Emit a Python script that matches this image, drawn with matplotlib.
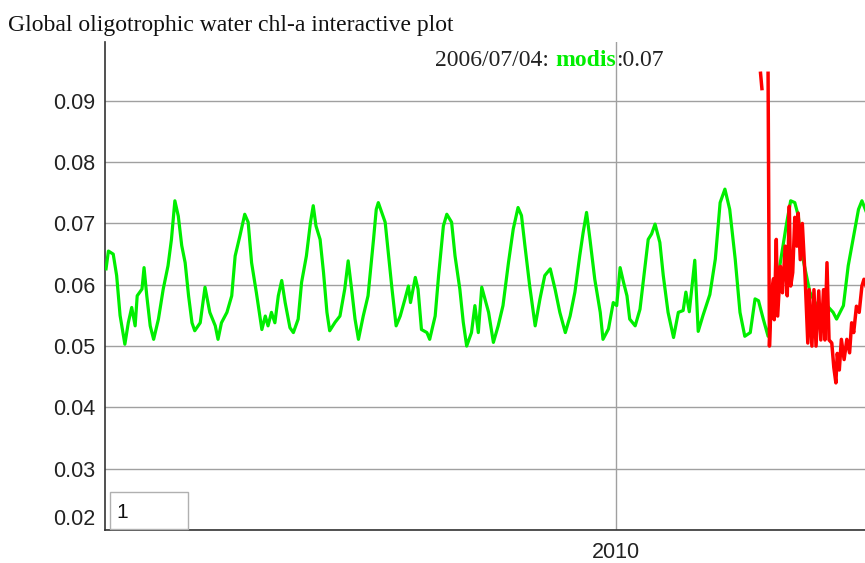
import numpy as np
import matplotlib
matplotlib.use("Agg")
import matplotlib.pyplot as plt
from matplotlib.patches import Rectangle

# modis series (green), decimal year vs chl-a
modis_year = [
    2002.555, 2002.59, 2002.66, 2002.71, 2002.76, 2002.83, 2002.88, 2002.93, 2002.98,
    2003.01, 2003.08, 2003.11, 2003.15, 2003.20, 2003.25, 2003.32, 2003.39, 2003.46,
    2003.51, 2003.56, 2003.61, 2003.66, 2003.71, 2003.76, 2003.81, 2003.85, 2003.93,
    2004.00, 2004.07, 2004.15, 2004.19, 2004.24, 2004.32, 2004.39, 2004.44, 2004.51,
    2004.58, 2004.63, 2004.68, 2004.75, 2004.83, 2004.88, 2004.92, 2004.97,
    2005.02, 2005.07, 2005.12, 2005.17, 2005.24, 2005.29, 2005.36, 2005.41, 2005.48,
    2005.54, 2005.58, 2005.62, 2005.68, 2005.73, 2005.78, 2005.82, 2005.90, 2005.97,
    2006.04, 2006.09, 2006.14, 2006.19, 2006.24, 2006.31, 2006.38, 2006.46, 2006.50,
    2006.53, 2006.58, 2006.63, 2006.68, 2006.73, 2006.79, 2006.85, 2006.92, 2006.97,
    2007.00, 2007.07, 2007.11, 2007.16, 2007.24, 2007.28, 2007.36, 2007.41, 2007.48,
    2007.53, 2007.60, 2007.65, 2007.72, 2007.77, 2007.82, 2007.89, 2007.94, 2007.99,
    2008.04, 2008.14, 2008.21, 2008.28, 2008.35, 2008.43, 2008.50, 2008.57, 2008.62,
    2008.67, 2008.74, 2008.82, 2008.89, 2008.96,
    2009.04, 2009.11, 2009.18, 2009.26, 2009.33, 2009.40, 2009.47, 2009.52, 2009.57,
    2009.62, 2009.69, 2009.77, 2009.81, 2009.89, 2009.96,
    2010.01, 2010.06, 2010.11, 2010.16, 2010.20, 2010.28, 2010.35, 2010.42, 2010.47,
    2010.52, 2010.57, 2010.64, 2010.69, 2010.76, 2010.84, 2010.91, 2010.98,
    2011.02, 2011.07, 2011.15, 2011.20, 2011.27, 2011.37, 2011.45, 2011.52, 2011.59,
    2011.66, 2011.74, 2011.81, 2011.88, 2011.96,
    2012.03, 2012.08, 2012.15, 2012.22, 2012.30, 2012.39, 2012.49, 2012.55, 2012.61,
    2012.66, 2012.73, 2012.83, 2012.93,
    2013.08, 2013.17, 2013.22, 2013.32, 2013.39, 2013.46, 2013.54, 2013.59, 2013.65,
]
modis_chl = [
    0.0626, 0.0655, 0.0650, 0.0615, 0.0550, 0.0503, 0.0538, 0.0563, 0.0533,
    0.0582, 0.0593, 0.0628, 0.0582, 0.0533, 0.0511, 0.0544, 0.0593, 0.0631,
    0.0674, 0.0737, 0.0712, 0.0664, 0.0636, 0.0582, 0.0538, 0.0525, 0.0538,
    0.0596, 0.0555, 0.0533, 0.0511, 0.0538, 0.0555, 0.0582, 0.0647, 0.0680,
    0.0715, 0.0702, 0.0636, 0.0587, 0.0527, 0.0549, 0.0533, 0.0555,
    0.0538, 0.0582, 0.0607, 0.0571, 0.0530, 0.0522, 0.0544, 0.0604, 0.0647,
    0.0702, 0.0729, 0.0696, 0.0674, 0.0620, 0.0555, 0.0525, 0.0539, 0.0549,
    0.0593, 0.0639, 0.0593, 0.0544, 0.0511, 0.0549, 0.0582, 0.0674, 0.0723,
    0.0734, 0.0718, 0.0702, 0.0647, 0.0593, 0.0533, 0.0549, 0.0577, 0.0598,
    0.0571, 0.0612, 0.0593, 0.0527, 0.0522, 0.0511, 0.0549, 0.0615, 0.0696,
    0.0715, 0.0702, 0.0647, 0.0593, 0.0539, 0.0500, 0.0522, 0.0566, 0.0522,
    0.0596, 0.0555, 0.0506, 0.0533, 0.0566, 0.0636, 0.0691, 0.0726, 0.0713,
    0.0664, 0.0598, 0.0533, 0.0577, 0.0615,
    0.0626, 0.0593, 0.0555, 0.0522, 0.0549, 0.0588, 0.0647, 0.0685, 0.0718,
    0.0674, 0.0609, 0.0555, 0.0511, 0.0528, 0.0571,
    0.0566, 0.0628, 0.0604, 0.0582, 0.0544, 0.0533, 0.0560, 0.0626, 0.0674,
    0.0683, 0.0699, 0.0669, 0.0615, 0.0555, 0.0514, 0.0555, 0.0558,
    0.0588, 0.0556, 0.0640, 0.0524, 0.0550, 0.0584, 0.0642, 0.0734, 0.0756,
    0.0723, 0.0642, 0.0555, 0.0516, 0.0522,
    0.0577, 0.0574, 0.0544, 0.0516, 0.0580, 0.0630, 0.0700, 0.0737, 0.0734,
    0.0713, 0.0642, 0.0588, 0.0566,
    0.0566, 0.0555, 0.0544, 0.0566, 0.0631, 0.0674, 0.0723, 0.0737, 0.0720,
]

# second series (red), starts 2012
red_year = [
    2012.11, 2012.13, 2012.17, 2012.22, 2012.24, 2012.27, 2012.30, 2012.31, 2012.34,
    2012.36, 2012.40, 2012.43, 2012.47, 2012.50, 2012.53, 2012.55, 2012.58, 2012.61,
    2012.64, 2012.66, 2012.69, 2012.72, 2012.76, 2012.80, 2012.82, 2012.86, 2012.89,
    2012.92, 2012.96, 2012.99, 2013.03, 2013.05, 2013.08, 2013.11, 2013.15, 2013.18,
    2013.21, 2013.23, 2013.26, 2013.29, 2013.33, 2013.37, 2013.41, 2013.44, 2013.47,
    2013.51, 2013.55, 2013.59, 2013.62, 2013.65,
]
red_chl = [
    0.0945, 0.0920, np.nan, 0.0945, 0.0500, 0.0587, 0.0610, 0.0543, 0.0674,
    0.0549, 0.0630, 0.0587, 0.0663, 0.0582, 0.0728, 0.0598, 0.0620, 0.0710,
    0.0663, 0.0717, 0.0641, 0.0700, 0.0614, 0.0505, 0.0592, 0.0500, 0.0592,
    0.0500, 0.0590, 0.0510, 0.0592, 0.0510, 0.0636, 0.0510, 0.0505, 0.0465,
    0.0440, 0.0488, 0.0461, 0.0511, 0.0478, 0.0511, 0.0489, 0.0538, 0.0522,
    0.0565, 0.0555, 0.0598, 0.0609, 0.0598,
]

ytick_vals = [0.02, 0.03, 0.04, 0.05, 0.06, 0.07, 0.08, 0.09]
xtick_vals = [2010]
xtick_labels = ["2010"]
title = "Global oligotrophic water chl-a interactive plot"
legend_date = "2006/07/04:"
legend_series = "modis"
legend_value = ":0.07"
range_box_text = "1"

green = "#00ee00"
red = "#ff0000"
W, H = 865, 563

plt.rcParams['font.family'] = ['Liberation Sans', 'DejaVu Sans']

fig = plt.figure(figsize=(W / 100, H / 100), dpi=100)
ax = fig.add_axes([105 / W, 33 / H, 760 / W, 488 / H])

ax.plot(modis_year, modis_chl, color=green, lw=2.3, solid_joinstyle='round', zorder=3)
ax.plot(red_year, red_chl, color=red, lw=2.5, solid_joinstyle='round', zorder=4)

ax.set_xlim(2002.54, 2013.635)
ax.set_ylim(0.02, 0.0996)
ax.set_yticks(ytick_vals)
ax.set_yticklabels(["%.2f" % v for v in ytick_vals])
ax.set_xticks(xtick_vals)
ax.set_xticklabels(xtick_labels)
ax.tick_params(length=0, labelsize=15.5, labelcolor='#222222')
ax.tick_params(axis='y', pad=7)
ax.tick_params(axis='x', pad=9)
ax.yaxis.get_major_ticks()[0].label1.set_va('bottom')

ax.grid(True, color='#a0a0a0', lw=1)
ax.set_axisbelow(True)
for s in ['top', 'right']:
    ax.spines[s].set_visible(False)
for s in ['left', 'bottom']:
    ax.spines[s].set_color('#333333')
    ax.spines[s].set_linewidth(1.2)

# title and legend
fig.text(8 / W, 1 - 31 / H, title, family='Liberation Serif', fontsize=17,
         va='baseline', ha='left', color='#111111')
t1 = fig.text(435 / W, 1 - 66 / H, legend_date, family='Liberation Serif',
              fontsize=17, va='baseline', ha='left', color='#222222')
t2 = ax.annotate(legend_series, xy=(1, 0), xycoords=t1, xytext=(4.5, 0),
                 textcoords='offset points', va='bottom', ha='left',
                 family='Liberation Serif', fontsize=17, weight='bold',
                 color=green, annotation_clip=False)
ax.annotate(legend_value, xy=(1, 0), xycoords=t2, va='bottom', ha='left',
            family='Liberation Serif', fontsize=17, color='#222222',
            annotation_clip=False)

# roll period box
fig.add_artist(Rectangle((110 / W, 1 - 529 / H), 78 / W, 37 / H,
                         transform=fig.transFigure, facecolor='white',
                         edgecolor='#b0b0b0', lw=1, zorder=5))
fig.text(116 / W, 1 - 512 / H, range_box_text, fontsize=15, va='center',
         ha='left', color='#111111', zorder=6)

fig.savefig("out.png", dpi=100)
